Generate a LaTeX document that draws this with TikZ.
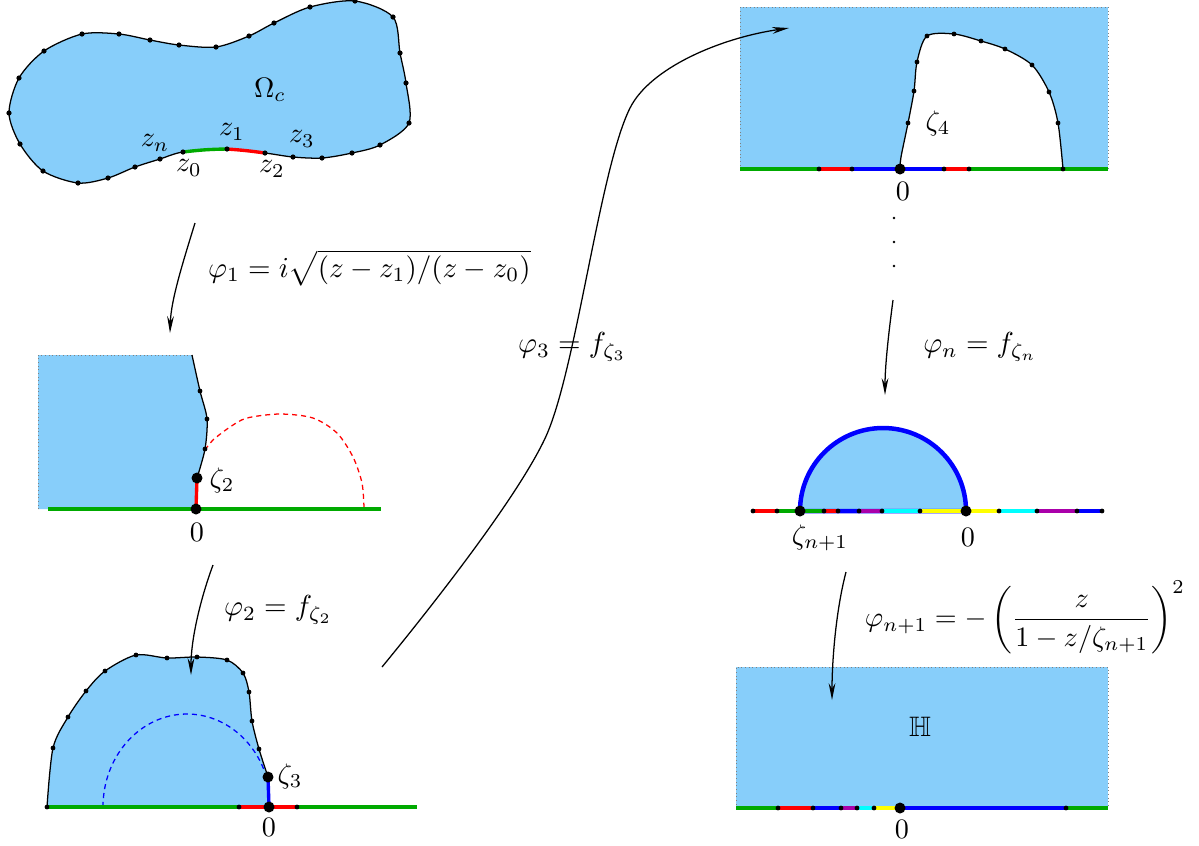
\documentclass[tikz,border=0pt]{standalone}
\usepackage{amsmath,amssymb}
\usetikzlibrary{arrows.meta}
\definecolor{skyblue}{RGB}{135,206,250}
\definecolor{lgreen}{RGB}{0,170,0}
\definecolor{lpurple}{RGB}{170,0,170}
\definecolor{lcyan}{RGB}{0,255,255}
\definecolor{lyellow}{RGB}{255,255,0}

\begin{document}
\begin{tikzpicture}[
    x=0.0125cm, y=-0.0125cm,
    region/.style={fill=skyblue},
    frame/.style={draw=gray, densely dotted, line width=0.3pt},
    bdry/.style={line width=0.45pt},
    seg/.style={line width=1.2pt},
    arcline/.style={dash pattern=on 1.8pt off 1.4pt, line width=0.45pt},
    map/.style={-{Stealth[length=6pt,width=2.4pt]}, line width=0.45pt}
]
    \useasboundingbox (0,0) rectangle (1199,845);

    % Omega_c
    \coordinate (z0) at (183,152);
    \coordinate (z1) at (227,149);
    \coordinate (z2) at (265,153);
    \filldraw[region, bdry] plot[smooth cycle] coordinates {(z0) (z1) (z2) (293,157) (322,158) (352,153) (380,145) (409,123) (406,83) (400,53) (393,17) (355,1) (310,7) (274,23) (249,36) (216,47) (179,45) (150,40) (119,34) (82,34) (44,51) (19,78) (9,113) (20,144) (43,171) (78,183) (108,178) (135,167) (160,159)};
    \draw[seg, lgreen] (z0) to[bend left=3] (z1);
    \draw[seg, red] (z1) to[bend left=2] (z2);
    \foreach \p in {(183,152),(227,149),(265,153),(293,157),(322,158),(352,153),(380,145),(409,123),(406,83),(400,53),(393,17),(355,1),(310,7),(274,23),(249,36),(216,47),(179,45),(150,40),(119,34),(82,34),(44,51),(19,78),(9,113),(20,144),(43,171),(78,183),(108,178),(135,167),(160,159)}
        \fill \p circle[radius=2.6];
    \node (omega) at (270,90) {$\Omega_c$};
    \node (lzn) at (155,143) {$z_n$};
    \node (lz1) at (232,132) {$z_1$};
    \node (lz3) at (302,139) {$z_3$};
    \node (lz0) at (189,168) {$z_0$};
    \node (lz2) at (272,169) {$z_2$};

    % second picture
    \coordinate (zeta2) at (197,478);
    \coordinate (o2) at (196,509);
    \fill[region] (38,355) -- plot[smooth] coordinates {(192,355) (200,391) (207,419) (205,449) (zeta2)} -- (o2) -- (38,509) -- cycle;
    \draw[frame] (38,509) -- (38,355) -- (192,355);
    \draw[bdry] plot[smooth] coordinates {(192,355) (200,391) (207,419) (205,449) (zeta2)};
    \draw[red, arcline] plot[smooth] coordinates {(205,450) (213,440) (230,427) (247,418) (280,414) (313,418) (337,433) (353,457) (362,483) (364,508)};
    \draw[seg, lgreen] (48,509) -- (381,509);
    \draw[seg, red] (zeta2) -- (o2);
    \foreach \p in {(200,391),(207,419),(205,449)}
        \fill \p circle[radius=2.4];
    \fill (zeta2) circle[radius=5.5];
    \fill (o2) circle[radius=5.5];
    \node (lzeta2) at (222,480) {$\zeta_2$};
    \node (l02) at (197,532) {$0$};

    % third picture
    \coordinate (zeta3) at (268,777);
    \coordinate (o3) at (269,807);
    \filldraw[region, bdry] plot[smooth] coordinates {(47,807) (53,748) (68,717) (86,691) (105,671) (136,655) (167,658) (197,657) (227,660) (243,673) (249,692) (252,721) (259,749) (zeta3)} -- (o3) -- cycle;
    \draw[blue, arcline] (103,807) arc[start angle=180, end angle=338, x radius=84, y radius=93];
    \draw[seg, lgreen] (47,807) -- (417,807);
    \draw[seg, red] (239,807) -- (297,807);
    \draw[seg, blue] (zeta3) -- (o3);
    \foreach \p in {(47,807),(53,748),(68,717),(86,691),(105,671),(136,655),(167,658),(197,657),(227,660),(243,673),(249,692),(252,721),(259,749),(239,807),(297,807)}
        \fill \p circle[radius=2.4];
    \fill (zeta3) circle[radius=5.5];
    \fill (o3) circle[radius=5.5];
    \node (lzeta3) at (290,776) {$\zeta_3$};
    \node (l03) at (269,827) {$0$};

    % fourth picture
    \coordinate (o4) at (900,169);
    \fill[region] (740,7) rectangle (1108,169);
    \draw[frame] (740,169) -- (740,7) -- (1108,7) -- (1108,169);
    \fill[white] plot[smooth] coordinates {(o4) (901,157) (908,123) (914,91) (917,62) (927,36) (954,34) (981,41) (1005,49) (1032,65) (1049,92) (1058,123) (1063,169)} -- cycle;
    \draw[bdry] plot[smooth] coordinates {(o4) (901,157) (908,123) (914,91) (917,62) (927,36) (954,34) (981,41) (1005,49) (1032,65) (1049,92) (1058,123) (1063,169)};
    \foreach \a/\b/\c in {740/819/lgreen, 819/852/red, 852/900/blue, 900/944/blue, 944/969/red, 969/1108/lgreen}
        \draw[seg, \c] (\a,169) -- (\b,169);
    \foreach \p in {(908,123),(914,91),(917,62),(927,36),(954,34),(981,41),(1005,49),(1032,65),(1049,92),(1058,123),(1063,169),(819,169),(852,169),(944,169),(969,169)}
        \fill \p circle[radius=2.4];
    \fill (o4) circle[radius=5.5];
    \node (lzeta4) at (938,123) {$\zeta_4$};
    \node (l04) at (903,191) {$0$};
    \foreach \y in {218,242,266}
        \fill (894,\y) circle[radius=1.4];

    % fifth picture
    \coordinate (zetan) at (800,511);
    \coordinate (o5) at (966,511);
    \filldraw[fill=skyblue, draw=blue, line width=1.6pt] (zetan) arc[start angle=180, end angle=360, radius=83] -- cycle;
    \foreach \a/\b/\c in {753/777/red, 777/824/lgreen, 824/838/red, 838/859/blue, 859/882/lpurple, 882/920/lcyan, 920/966/lyellow, 966/999/lyellow, 999/1037/lcyan, 1037/1077/lpurple, 1077/1102/blue}
        \draw[seg, \c] (\a,511) -- (\b,511);
    \foreach \x in {753,777,824,838,859,882,920,999,1037,1077,1102}
        \fill (\x,511) circle[radius=2.4];
    \fill (zetan) circle[radius=5.5];
    \fill (o5) circle[radius=5.5];
    \node (lzetan) at (820,538) {$\zeta_{n+1}$};
    \node (l05) at (968,537) {$0$};

    % upper half-plane
    \coordinate (o6) at (900,808);
    \fill[region] (736,667) rectangle (1108,808);
    \draw[frame] (736,808) -- (736,667) -- (1108,667) -- (1108,808);
    \foreach \a/\b/\c in {736/778/lgreen, 778/813/red, 813/841/blue, 841/857/lpurple, 857/874/lcyan, 874/900/lyellow, 900/1066/blue, 1066/1108/lgreen}
        \draw[seg, \c] (\a,808) -- (\b,808);
    \foreach \x in {778,813,841,857,874,1066}
        \fill (\x,808) circle[radius=2.4];
    \fill (o6) circle[radius=5.5];
    \node (hplane) at (920,727) {$\mathbb{H}$};
    \node (l06) at (902,829) {$0$};

    % the maps
    \coordinate (m1s) at (195,223);
    \coordinate (m1e) at (170,333);
    \draw[map] (m1s) .. controls (183,262) and (171,300) .. (m1e);
    \node[anchor=west, scale=1.03] (phi1) at (198,268) {$\varphi_1 = i\sqrt{(z-z_1)/(z-z_0)}$};

    \coordinate (m2s) at (213,565);
    \coordinate (m2e) at (191,675);
    \draw[map] (m2s) .. controls (200,600) and (191,640) .. (m2e);
    \node[anchor=west, scale=1.03] (phi2) at (214,610) {$\varphi_2 = f_{\zeta_2}$};

    \coordinate (m3a) at (382,667);
    \coordinate (m3b) at (547,434);
    \coordinate (m3c) at (630,108);
    \coordinate (m3d) at (789,28);
    \draw[map] (m3a) .. controls (437,600) and (522,491) .. (m3b)
        .. controls (577,364) and (600,168) .. (m3c)
        .. controls (650,68) and (720,38) .. (m3d);
    \node[anchor=west, scale=1.03] (phi3) at (508,347) {$\varphi_3 = f_{\zeta_3}$};

    \coordinate (mns) at (893,300);
    \coordinate (mne) at (885,395);
    \draw[map] (mns) .. controls (889,330) and (885,365) .. (mne);
    \node[anchor=west, scale=1.03] (phin) at (913,347) {$\varphi_n = f_{\zeta_n}$};

    \coordinate (mms) at (846,572);
    \coordinate (mme) at (832,700);
    \draw[map] (mms) .. controls (836,610) and (832,660) .. (mme);
    \node[anchor=west] (phim) at (855,617) {$\displaystyle\varphi_{n+1} = -\left(\frac{z}{1-z/\zeta_{n+1}}\right)^2$};
\end{tikzpicture}
\end{document}
